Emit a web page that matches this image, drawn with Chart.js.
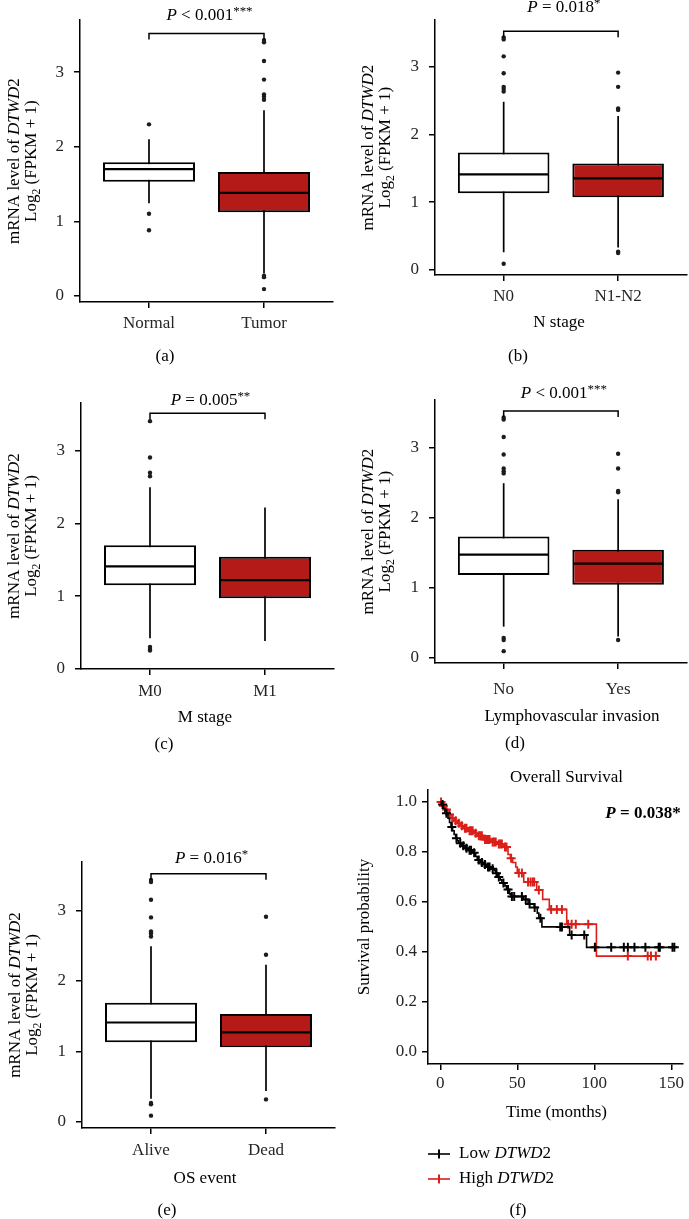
<!DOCTYPE html>
<html>
<head>
<meta charset="utf-8">
<title>DTWD2 expression and survival</title>
<script src="https://cdn.jsdelivr.net/npm/chart.js@4.4.1/dist/chart.umd.min.js"></script>
<style>
  html, body { margin:0; padding:0; background:#ffffff; }
  #fig { position:relative; width:689px; height:1219px; overflow:hidden; background:#ffffff; }
  #fig canvas { position:absolute; }
</style>
</head>
<body>
<div id="fig">
  <canvas id="pa"></canvas>
  <canvas id="pb"></canvas>
  <canvas id="pc"></canvas>
  <canvas id="pd"></canvas>
  <canvas id="pe"></canvas>
  <canvas id="pf"></canvas>
</div>
<script>
// ================= DATA =================
const boxYTicks = [0, 1, 2, 3];
const bracketLevel = 3.52;

// (a) Normal vs Tumor
const catsA = ['Normal', 'Tumor'];
const lowA  = [1.24, 0.30];
const q1A   = [1.53, 1.12];
const medA  = [1.70, 1.38];
const q3A   = [1.79, 1.66];
const highA = [2.10, 2.49];
const outA  = [[2.30, 1.10, 0.88], [3.43, 3.40, 3.15, 2.90, 2.70, 2.67, 2.63, 0.27, 0.25, 0.09]];
const pTextA = [' < 0.001', '***'];

// (b) N stage
const catsB = ['N0', 'N1-N2'];
const lowB  = [0.26, 0.33];
const q1B   = [1.13, 1.07];
const medB  = [1.41, 1.35];
const q3B   = [1.73, 1.57];
const highB = [2.48, 2.27];
const outB  = [[3.43, 3.40, 3.15, 2.90, 2.70, 2.67, 2.63, 0.09], [2.91, 2.70, 2.38, 2.36, 0.27, 0.25]];
const pTextB = [' = 0.018', '*'];

// (c) M stage
const catsC = ['M0', 'M1'];
const lowC  = [0.42, 0.38];
const q1C   = [1.15, 0.97];
const medC  = [1.41, 1.22];
const q3C   = [1.70, 1.54];
const highC = [2.50, 2.22];
const outC  = [[3.41, 2.91, 2.70, 2.65, 0.30, 0.27, 0.25], []];
const pTextC = [' = 0.005', '**'];

// (d) Lymphovascular invasion
const catsD = ['No', 'Yes'];
const lowD  = [0.44, 0.30];
const q1D   = [1.18, 1.04];
const medD  = [1.47, 1.34];
const q3D   = [1.73, 1.54];
const highD = [2.49, 2.26];
const outD  = [[3.43, 3.40, 3.15, 2.90, 2.70, 2.66, 2.63, 0.28, 0.25, 0.09], [2.91, 2.70, 2.38, 2.36, 0.25]];
const pTextD = [' < 0.001', '***'];

// (e) OS event
const catsE = ['Alive', 'Dead'];
const lowE  = [0.33, 0.44];
const q1E   = [1.13, 1.06];
const medE  = [1.41, 1.27];
const q3E   = [1.69, 1.53];
const highE = [2.49, 2.23];
const outE  = [[3.43, 3.40, 3.15, 2.90, 2.70, 2.67, 2.63, 0.27, 0.25, 0.09], [2.91, 2.37, 0.32]];
const pTextE = [' = 0.016', '*'];

// (f) Kaplan-Meier overall survival
const kmXTicks = [0, 50, 100, 150];
const kmYTicks = [0, 0.2, 0.4, 0.6, 0.8, 1.0];
const kmSeriesNames = ['Low', 'High'];
const lowTimes = [0, 1, 2, 3, 5, 6, 7, 8, 9, 10, 11, 12, 14, 16, 18, 21, 23, 24, 26, 28, 30, 33, 35, 36, 37, 39, 40, 42, 43, 45, 46, 54, 57, 61, 63, 64, 66, 84, 95];
const lowSurv  = [1.0, 0.99, 0.975, 0.955, 0.935, 0.918, 0.90, 0.885, 0.87, 0.855, 0.845, 0.835, 0.825, 0.815, 0.807, 0.797, 0.782, 0.768, 0.758, 0.750, 0.740, 0.733, 0.725, 0.715, 0.700, 0.688, 0.676, 0.664, 0.650, 0.632, 0.622, 0.610, 0.592, 0.578, 0.555, 0.535, 0.500, 0.467, 0.418];
const lowCensor = [1.5, 4, 7.5, 10.5, 13, 15, 17, 19, 20, 22, 25, 27, 29, 31, 32, 34, 36.5, 38, 41, 44, 46.5, 48, 53, 55.5, 58, 61.3, 65, 77.9, 79, 85.3, 93.5, 100.4, 111, 119.2, 121.8, 126.1, 133.2, 141.8, 142.6, 150.8, 152];
const highTimes = [0, 1, 3, 5, 7, 9, 11, 13, 15, 18, 22, 24, 28, 33, 37, 41, 44, 45.5, 47, 49, 50, 54.2, 62.6, 66.5, 70.8, 82.1, 101.4];
const highSurv  = [1.0, 0.985, 0.97, 0.95, 0.935, 0.925, 0.915, 0.905, 0.895, 0.885, 0.875, 0.865, 0.85, 0.84, 0.832, 0.82, 0.79, 0.775, 0.758, 0.74, 0.716, 0.68, 0.648, 0.61, 0.57, 0.511, 0.383];
const highCensor = [0.5, 2, 4, 6, 8, 10, 12, 14, 16, 17, 19, 20, 21, 23, 25, 26, 27, 29, 30, 31, 32, 34, 35, 36, 38, 39, 40, 42, 43, 46, 51, 53, 57, 58.6, 60, 61, 64, 72, 75.7, 79, 83, 85.3, 88, 96.1, 121.8, 134.7, 136.8, 140];

// ================= STYLE / LAYOUT =================
const SERIF = "'Liberation Serif','Times New Roman',serif";
const FS = 17;
const TICK_COLOR = '#262626';
const RED_FILL = '#B31A18';
const KM_RED = '#DA1F1A';
Chart.defaults.font.family = SERIF;
Chart.defaults.font.size = FS;
Chart.defaults.color = TICK_COLOR;

function fontStr(size, it, bold) {
  return (it ? 'italic ' : '') + (bold ? 'bold ' : '') + size + 'px ' + SERIF;
}
// draw mixed-style text (italic, subscript, superscript) centred at (cx, cy)
function richText(ctx, segs, cx, cy, opts) {
  opts = opts || {};
  const size = opts.size || FS;
  ctx.save();
  ctx.translate(cx, cy);
  if (opts.rotate) ctx.rotate(opts.rotate);
  ctx.textBaseline = 'middle';
  ctx.textAlign = 'left';
  ctx.fillStyle = opts.color || '#000';
  let total = 0;
  const sizes = segs.map(s => s.sub ? size * 0.68 : (s.sup ? size * 0.76 : size));
  const widths = segs.map((s, i) => {
    ctx.font = fontStr(sizes[i], s.it, s.bold || opts.bold);
    const w = ctx.measureText(s.t).width;
    total += w;
    return w;
  });
  let x = opts.align === 'left' ? 0 : -total / 2;
  segs.forEach((s, i) => {
    ctx.font = fontStr(sizes[i], s.it, s.bold || opts.bold);
    const dy = s.sub ? size * 0.3 : (s.sup ? -size * 0.26 : 0);
    ctx.fillText(s.t, x, dy);
    x += widths[i];
  });
  ctx.restore();
}

function placeCanvas(id, g) {
  const cv = document.getElementById(id);
  cv.width = g.w; cv.height = g.h;
  cv.style.left = g.x + 'px'; cv.style.top = g.y + 'px';
  cv.style.width = g.w + 'px'; cv.style.height = g.h + 'px';
  return cv;
}

const yTitleLine1 = [{ t: 'mRNA level of ' }, { t: 'DTWD', it: true }, { t: '2' }];
const yTitleLine2 = [{ t: 'Log' }, { t: '2', sub: true }, { t: ' (FPKM + 1)' }];

function makeBoxChart(id, g, cats, low, q1, med, q3, high, outs, pText, xTitle, caption) {
  const cv = placeCanvas(id, g);
  const boxData = cats.map((c, i) => ({ x: i + 1, y: [q1[i], q3[i]] }));
  const outData = [];
  outs.forEach((arr, i) => arr.forEach(v => outData.push({ x: i + 1, y: v })));

  const extras = {
    id: 'boxExtras',
    beforeDatasetsDraw(chart) {
      const { ctx, scales: { x, y } } = chart;
      ctx.save();
      ctx.strokeStyle = '#000';
      ctx.lineWidth = 1.7;
      cats.forEach((c, i) => {
        const px = x.getPixelForValue(i + 1);
        ctx.beginPath();
        ctx.moveTo(px, y.getPixelForValue(low[i]));
        ctx.lineTo(px, y.getPixelForValue(high[i]));
        ctx.stroke();
      });
      ctx.restore();
    },
    afterDatasetsDraw(chart) {
      const { ctx, scales: { x, y } } = chart;
      const meta = chart.getDatasetMeta(0);
      ctx.save();
      ctx.strokeStyle = '#000';
      ctx.lineWidth = 2.2;
      meta.data.forEach((bar, i) => {
        const p = bar.getProps(['x', 'width'], true);
        const py = y.getPixelForValue(med[i]);
        ctx.beginPath();
        ctx.moveTo(p.x - p.width / 2 + 1, py);
        ctx.lineTo(p.x + p.width / 2 - 1, py);
        ctx.stroke();
      });
      // significance bracket
      const x1 = x.getPixelForValue(1), x2 = x.getPixelForValue(2);
      const by = y.getPixelForValue(bracketLevel);
      ctx.lineWidth = 1.5;
      ctx.beginPath();
      ctx.moveTo(x1, by + 6); ctx.lineTo(x1, by); ctx.lineTo(x2, by); ctx.lineTo(x2, by + 6);
      ctx.stroke();
      ctx.restore();
    },
    afterDraw(chart) {
      const ctx = chart.ctx;
      const { x } = chart.scales;
      const cy = (chart.chartArea.top + chart.chartArea.bottom) / 2;
      richText(ctx, yTitleLine1, g.yt1, cy, { rotate: -Math.PI / 2 });
      richText(ctx, yTitleLine2, g.yt2, cy, { rotate: -Math.PI / 2 });
      const mid = (x.getPixelForValue(1) + x.getPixelForValue(2)) / 2 + 3;
      richText(ctx, [{ t: 'P', it: true }, { t: pText[0] }, { t: pText[1], sup: true }], mid, g.pY);
      if (xTitle) richText(ctx, [{ t: xTitle }], g.xtX, g.xtY);
      richText(ctx, [{ t: caption }], g.capX, g.capY);
    }
  };

  return new Chart(cv, {
    type: 'bar',
    data: {
      datasets: [
        {
          type: 'bar', data: boxData,
          backgroundColor: ['#ffffff', RED_FILL], borderColor: '#000000', borderWidth: 2,
          borderSkipped: false, barPercentage: 0.8, categoryPercentage: 1.0, order: 2
        },
        {
          type: 'scatter', data: outData, pointRadius: 2.2, pointHoverRadius: 2.2,
          pointBackgroundColor: '#1c1c1c', pointBorderWidth: 0, order: 1
        }
      ]
    },
    options: {
      responsive: false, animation: false, devicePixelRatio: 1,
      layout: { padding: { left: 0, top: g.T, right: g.w - g.R, bottom: 0 } },
      plugins: { legend: { display: false }, tooltip: { enabled: false } },
      scales: {
        x: {
          type: 'linear', min: 0.4, max: 2.6, offset: false,
          afterBuildTicks: s => { s.ticks = cats.map((c, i) => ({ value: i + 1 })); },
          afterFit: s => { s.height = g.h - g.B; },
          ticks: { callback: v => cats[v - 1], padding: g.xPad, color: TICK_COLOR, font: { size: FS } },
          grid: { display: true, offset: false, drawOnChartArea: false, drawTicks: true, tickLength: 6, color: '#000', lineWidth: 1.5 },
          border: { display: true, color: '#000', width: 1.5 }
        },
        y: {
          type: 'linear', min: g.yMin, max: g.yMax,
          afterBuildTicks: s => { s.ticks = boxYTicks.map(v => ({ value: v })); },
          afterFit: s => { s.width = g.L; },
          ticks: { callback: v => String(v), padding: 10, color: TICK_COLOR, font: { size: FS } },
          grid: { display: true, drawOnChartArea: false, drawTicks: true, tickLength: 6, color: '#000', lineWidth: 1.5 },
          border: { display: true, color: '#000', width: 1.5 }
        }
      }
    },
    plugins: [extras]
  });
}

// panel geometries (pixels)
const geoA = { x: 0,   y: 0,   w: 345, h: 380, L: 80, T: 14, R: 333, B: 302, yMin: -0.083, yMax: 3.697, xPad: 5,  yt1: 14.5, yt2: 31.5, pY: 16, capX: 165, capY: 357 };
const geoB = { x: 345, y: 0,   w: 344, h: 380, L: 90, T: 10, R: 343, B: 275, yMin: -0.075, yMax: 3.683, xPad: 5,  yt1: 23.5, yt2: 41,   pY: 8,  xtX: 214, xtY: 323, capX: 173, capY: 357 };
const geoC = { x: 0,   y: 380, w: 345, h: 400, L: 81, T: 23, R: 334, B: 289, yMin: -0.005, yMax: 3.66,  xPad: 6.5, yt1: 15,   yt2: 32,   pY: 21, xtX: 205, xtY: 338, capX: 164, capY: 365 };
const geoD = { x: 345, y: 380, w: 344, h: 400, L: 90, T: 18, R: 343, B: 283, yMin: -0.079, yMax: 3.676, xPad: 10.5, yt1: 23.5, yt2: 41,  pY: 14, xtX: 227, xtY: 337, capX: 170, capY: 364 };
const geoE = { x: 0,   y: 780, w: 345, h: 439, L: 82, T: 82, R: 335, B: 348, yMin: -0.085, yMax: 3.685, xPad: 6.5, yt1: 16,   yt2: 33,   pY: 79, xtX: 205, xtY: 399, capX: 167, capY: 431 };
const geoF = { x: 345, y: 760, w: 344, h: 459, L: 83, T: 30, R: 340, B: 304, xMin: -7.98, xMax: 157.3, yMin: -0.049, yMax: 1.048 };

makeBoxChart('pa', geoA, catsA, lowA, q1A, medA, q3A, highA, outA, pTextA, null, '(a)');
makeBoxChart('pb', geoB, catsB, lowB, q1B, medB, q3B, highB, outB, pTextB, 'N stage', '(b)');
makeBoxChart('pc', geoC, catsC, lowC, q1C, medC, q3C, highC, outC, pTextC, 'M stage', '(c)');
makeBoxChart('pd', geoD, catsD, lowD, q1D, medD, q3D, highD, outD, pTextD, 'Lymphovascular invasion', '(d)');
makeBoxChart('pe', geoE, catsE, lowE, q1E, medE, q3E, highE, outE, pTextE, 'OS event', '(e)');

// ================= Kaplan-Meier =================
function stepPoints(times, surv, endT) {
  const pts = times.map((t, i) => ({ x: t, y: surv[i] }));
  pts.push({ x: endT, y: surv[surv.length - 1] });
  return pts;
}
function survAt(times, surv, t) {
  let s = surv[0];
  for (let i = 0; i < times.length; i++) if (times[i] <= t) s = surv[i];
  return s;
}
function censorPoints(times, surv, cens) {
  return cens.map(t => ({ x: t, y: survAt(times, surv, t) }));
}

(function () {
  const g = geoF;
  const cv = placeCanvas('pf', g);
  const kmColors = ['#000000', KM_RED];
  const extras = {
    id: 'kmExtras',
    afterDraw(chart) {
      const ctx = chart.ctx;
      const cy = (chart.chartArea.top + chart.chartArea.bottom) / 2;
      richText(ctx, [{ t: 'Overall Survival' }], 221.5, 18);
      richText(ctx, [{ t: 'P', it: true }, { t: ' = 0.038*' }], 298, 54, { bold: true });
      richText(ctx, [{ t: 'Survival probability' }], 20, cy, { rotate: -Math.PI / 2 });
      richText(ctx, [{ t: 'Time (months)' }], 211.5, 353);
      // legend
      const rows = [394, 419];
      kmSeriesNames.forEach((name, i) => {
        const yy = rows[i];
        ctx.save();
        ctx.strokeStyle = kmColors[i];
        ctx.lineWidth = 1.6;
        ctx.beginPath(); ctx.moveTo(83, yy); ctx.lineTo(105, yy); ctx.stroke();
        ctx.lineWidth = 2;
        ctx.beginPath(); ctx.moveTo(94, yy - 4.5); ctx.lineTo(94, yy + 4.5); ctx.stroke();
        ctx.restore();
        richText(ctx, [{ t: name + ' ' }, { t: 'DTWD', it: true }, { t: '2' }], 114, yy, { align: 'left' });
      });
      richText(ctx, [{ t: '(f)' }], 173, 451);
    }
  };
  const lowEnd = lowCensor[lowCensor.length - 1];
  const highEnd = highCensor[highCensor.length - 1];
  new Chart(cv, {
    type: 'line',
    data: {
      datasets: [
        { type: 'line', data: stepPoints(lowTimes, lowSurv, lowEnd), borderColor: '#000', borderWidth: 1.6, stepped: true, pointRadius: 0, fill: false },
        { type: 'scatter', data: censorPoints(lowTimes, lowSurv, lowCensor), pointStyle: 'cross', pointRadius: 4.5, pointHoverRadius: 4.5, pointBorderColor: '#000', pointBorderWidth: 2 },
        { type: 'line', data: stepPoints(highTimes, highSurv, highEnd), borderColor: KM_RED, borderWidth: 1.6, stepped: true, pointRadius: 0, fill: false },
        { type: 'scatter', data: censorPoints(highTimes, highSurv, highCensor), pointStyle: 'cross', pointRadius: 4.5, pointHoverRadius: 4.5, pointBorderColor: KM_RED, pointBorderWidth: 2 }
      ]
    },
    options: {
      responsive: false, animation: false, devicePixelRatio: 1,
      layout: { padding: { left: 0, top: g.T, right: g.w - g.R, bottom: 0 } },
      plugins: { legend: { display: false }, tooltip: { enabled: false } },
      scales: {
        x: {
          type: 'linear', min: g.xMin, max: g.xMax,
          afterBuildTicks: s => { s.ticks = kmXTicks.map(v => ({ value: v })); },
          afterFit: s => { s.height = g.h - g.B; },
          ticks: { callback: v => String(v), padding: 3, color: TICK_COLOR, font: { size: FS } },
          grid: { display: true, drawOnChartArea: false, drawTicks: true, tickLength: 6, color: '#000', lineWidth: 1.5 },
          border: { display: true, color: '#000', width: 1.5 }
        },
        y: {
          type: 'linear', min: g.yMin, max: g.yMax,
          afterBuildTicks: s => { s.ticks = kmYTicks.map(v => ({ value: v })); },
          afterFit: s => { s.width = g.L; },
          ticks: { callback: v => Number(v).toFixed(1), padding: 5, color: TICK_COLOR, font: { size: FS } },
          grid: { display: true, drawOnChartArea: false, drawTicks: true, tickLength: 6, color: '#000', lineWidth: 1.5 },
          border: { display: true, color: '#000', width: 1.5 }
        }
      }
    },
    plugins: [extras]
  });
})();
</script>
</body>
</html>
